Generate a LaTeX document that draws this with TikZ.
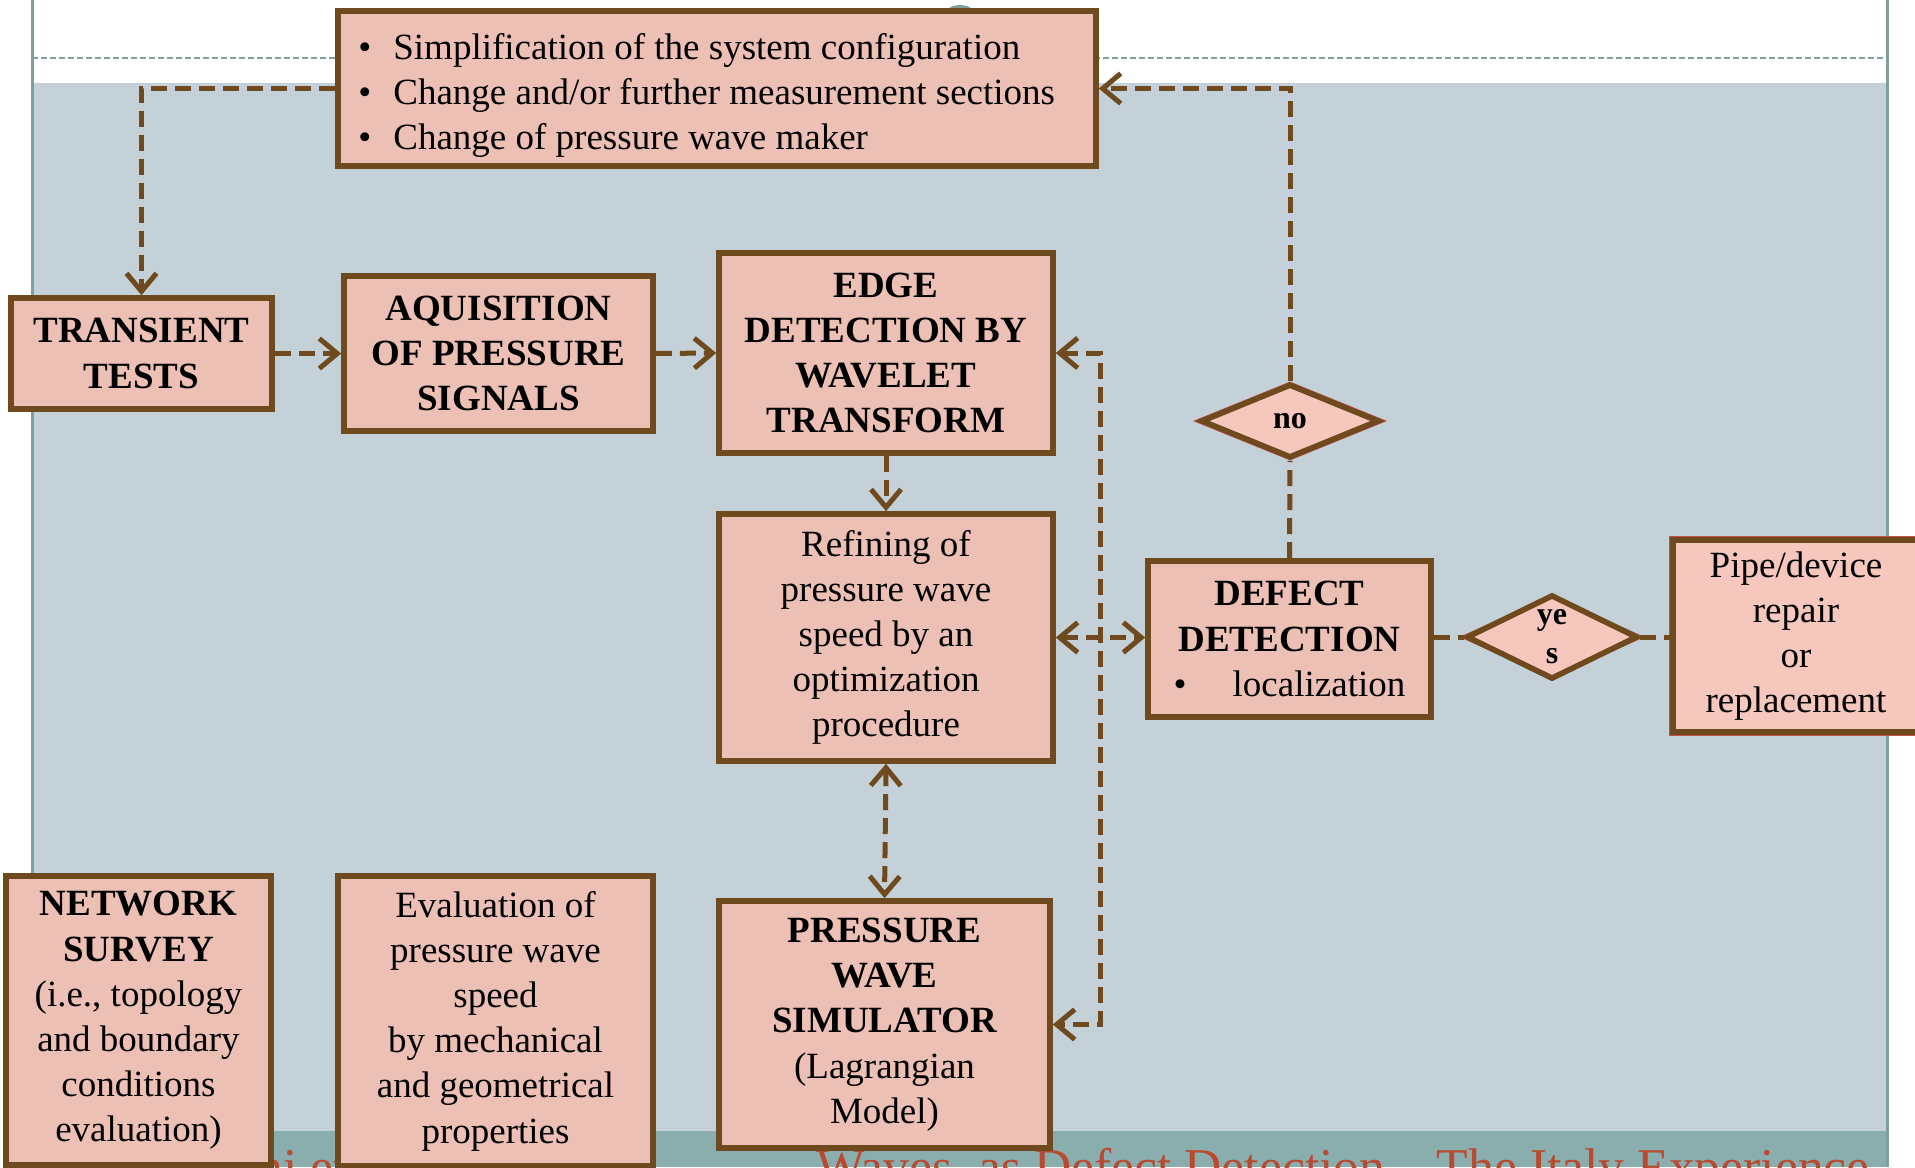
\documentclass[tikz,border=0pt]{standalone}
\usepackage{fontspec}
\setmainfont{Liberation Serif}
\usetikzlibrary{arrows.meta,shapes.geometric}
\definecolor{boxfill}{HTML}{EDC0B5}
\definecolor{boxfilltwo}{HTML}{F5C7BD}
\definecolor{brn}{HTML}{6F4A1F}
\definecolor{bgblue}{HTML}{C5D1D8}
\definecolor{band}{HTML}{8AADAD}
\definecolor{tealline}{HTML}{7F9E9E}
\definecolor{footred}{HTML}{B9492F}
\definecolor{redline}{HTML}{C0504D}
\begin{document}
\begin{tikzpicture}[x=0.5pt,y=-0.5pt,
  box/.style={draw=brn, line width=2.8pt, fill=boxfill, align=center, inner sep=0pt,
    font=\fontsize{18.5}{22.6}\selectfont},
  dia/.style={diamond, draw=brn, line width=2.8pt, fill=boxfilltwo, inner sep=0pt,
    align=center, font=\bfseries\fontsize{16}{19.5}\selectfont},
  redrim/.style={draw=redline, line width=3.6pt},
  conn/.style={draw=brn, line width=2.5pt, dash pattern=on 8pt off 4pt},
  tip/.tip={Straight Barb[length=9pt,width=15pt]},
  arr/.style={conn, -tip},
  biarr/.style={conn, tip-tip},
  foottext/.style={text=footred, font=\fontsize{25.8}{30}\selectfont, inner sep=0pt, anchor=base west}]
\clip (0,0) rectangle (1915,1167);
\useasboundingbox (0,0) rectangle (1915,1167);
% slide background
\fill[white] (0,0) rectangle (1915,1167);
\fill[bgblue] (32,83) rectangle (1886,1131);
\fill[band] (32,1131) rectangle (1887,1167);
\draw[tealline, line width=1.5pt] (32,0) -- (32,1131);
\draw[tealline, line width=1.5pt] (1887,0) -- (1887,1167);
\draw[tealline, line width=1pt, dash pattern=on 3pt off 1.5pt] (32,58) -- (1887,58);
\fill[tealline] (960,27) circle (22);
\node[foottext] (footleft) at (257,1184) {ni et};
\node[foottext] (foot) at (816,1184) {Waves, as Defect Detection – The Italy Experience};
% boxes
\node[box, minimum width=379pt, minimum height=77.5pt] (top) at (717,88.5) {};
\node[align=left, anchor=west, inner sep=0pt, font=\fontsize{18.5}{22.6}\selectfont] (toptext) at (358,95.5)
  {\makebox[17.5pt][l]{\textbullet}Simplification of the system configuration\\
   \makebox[17.5pt][l]{\textbullet}Change and/or further measurement sections\\
   \makebox[17.5pt][l]{\textbullet}Change of pressure wave maker};
\node[box, font=\bfseries\fontsize{18.5}{22.6}\selectfont, minimum width=130.5pt, minimum height=55.5pt] (trans) at (141.5,353.5) {TRANSIENT\\TESTS};
\node[box, font=\bfseries\fontsize{18.5}{22.6}\selectfont, minimum width=154.5pt, minimum height=77.5pt] (aq) at (498.5,353.5) {AQUISITION\\OF PRESSURE\\SIGNALS};
\node[box, font=\bfseries\fontsize{18.5}{22.6}\selectfont, minimum width=167pt, minimum height=100pt] (edge) at (886,353) {EDGE\\DETECTION BY\\WAVELET\\TRANSFORM};
\node[box, minimum width=167pt, minimum height=123.5pt] (ref) at (886,637.5) {Refining of\\pressure wave\\speed by an\\optimization\\procedure};
\node[box, minimum width=141.5pt, minimum height=78pt] (defect) at (1289.5,639) {{\bfseries DEFECT}\\{\bfseries DETECTION}\\\makebox[29.5pt][l]{\textbullet}localization};
\node[dia, redrim, minimum width=89pt, minimum height=37pt] (norim) at (1290,421) {};
\node[dia, minimum width=89pt, minimum height=37pt] (no) at (1290,421) {no};
\node[dia, redrim, minimum width=85.5pt, minimum height=39pt] (yesrim) at (1552,637) {};
\node[dia, minimum width=85.5pt, minimum height=39pt] (yes) at (1552,637) {ye\\s};
\node[box, redrim, minimum width=123pt, minimum height=96pt] (piperim) at (1796,636) {};
\node[box, fill=boxfilltwo, minimum width=123pt, minimum height=96pt] (pipe) at (1796,636) {Pipe/device\\repair\\or\\replacement};
\node[box, minimum width=132.5pt, minimum height=144.5pt] (net) at (138.5,1020.5) {{\bfseries NETWORK}\\{\bfseries SURVEY}\\(i.e., topology\\and boundary\\conditions\\evaluation)};
\node[box, minimum width=157.5pt, minimum height=145pt] (eval) at (495.5,1021) {Evaluation of\\pressure wave\\speed\\by mechanical\\and geometrical\\properties};
\node[box, minimum width=165.5pt, minimum height=123.5pt] (pws) at (884.5,1024.5) {{\bfseries PRESSURE}\\{\bfseries WAVE}\\{\bfseries SIMULATOR}\\(Lagrangian\\Model)};
% connectors
\coordinate (vx) at (1100,0);
\draw[arr] (top.west) -| (trans.north);
\draw[conn] (defect.north) -- (no.south);
\draw[arr] (no.north) |- (top.east);
\draw[arr] (trans.east) -- (aq.west);
\draw[arr] (aq.east) -- (edge.west);
\draw[arr] (edge.south) -- (ref.north);
\draw[biarr] (ref.south) -- (pws.north);
\draw[biarr] (ref.east) -- (defect.west |- ref.east);
\draw[biarr] (edge.east) -- (edge.east -| vx) -- (pws.east -| vx) -- (pws.east);
\draw[conn] (defect.east |- yes.west) -- (yes.west);
\draw[conn] (yes.east) -- (pipe.west |- yes.east);
\end{tikzpicture}
\end{document}
